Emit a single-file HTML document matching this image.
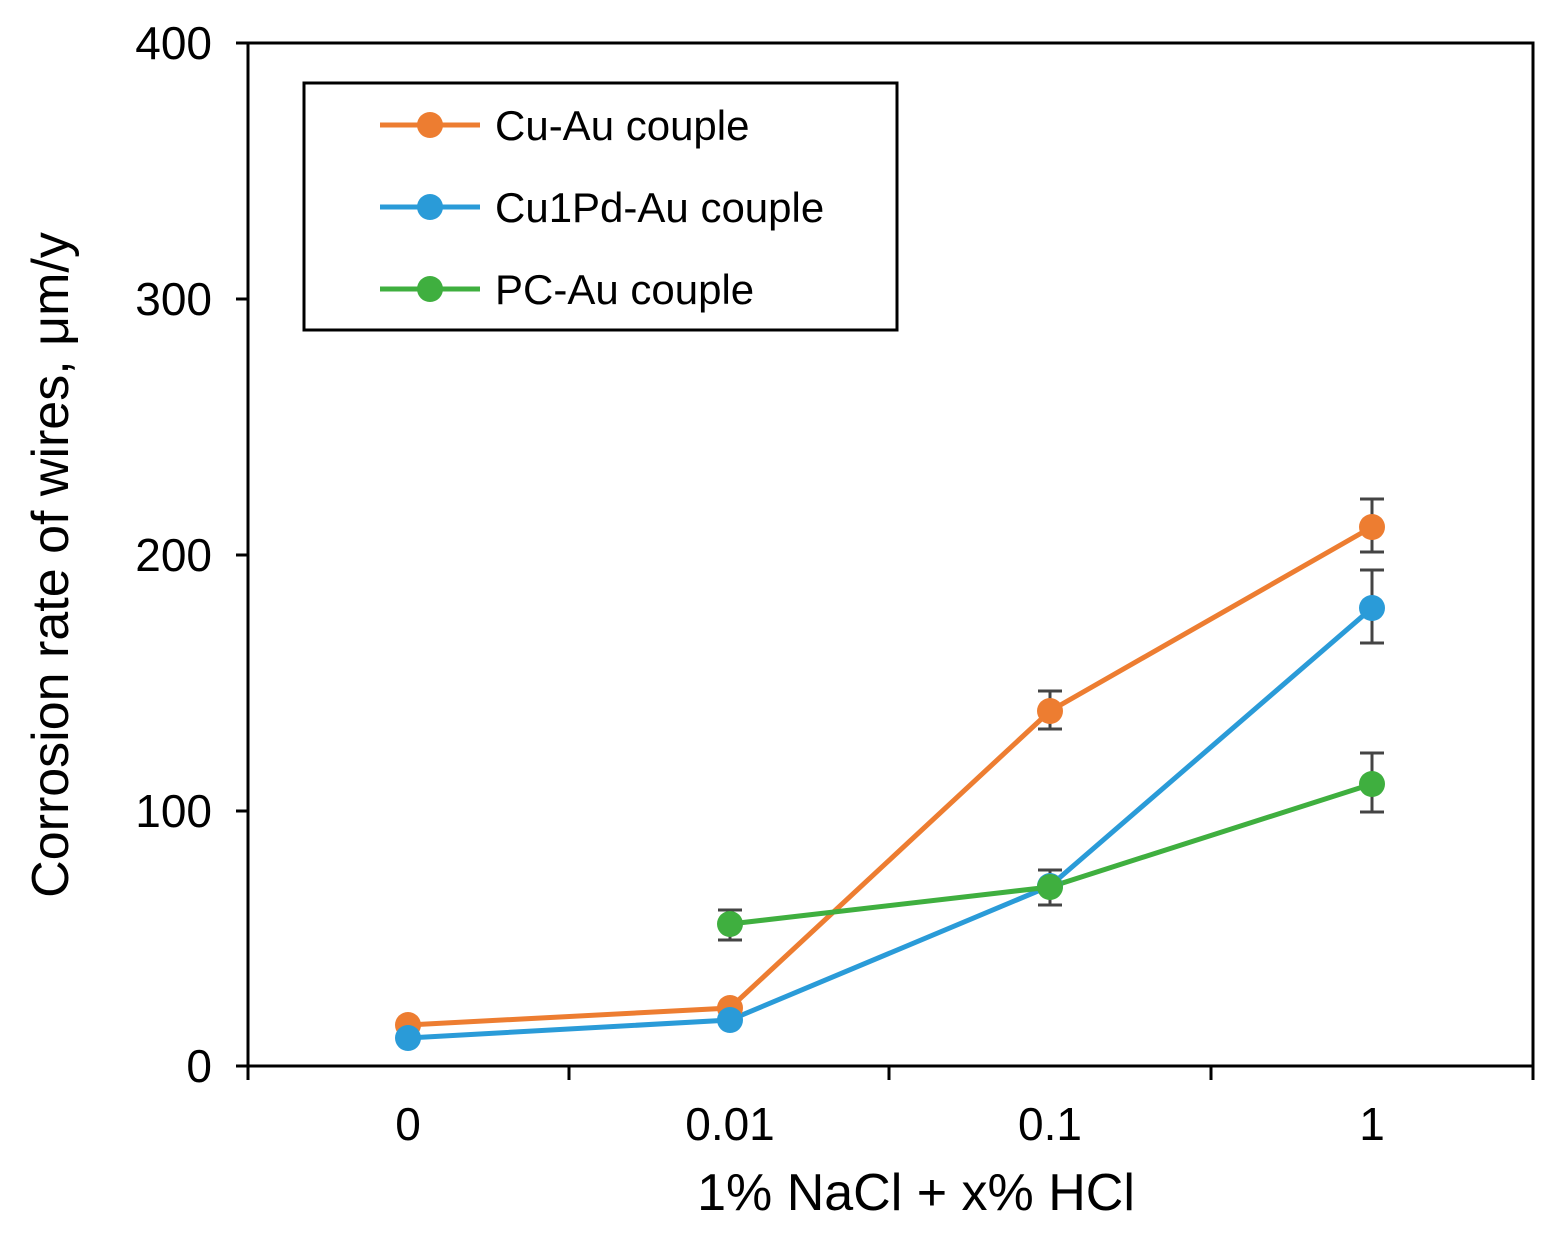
<!DOCTYPE html>
<html><head><meta charset="utf-8"><style>
html,body{margin:0;padding:0;background:#fff;}
svg{display:block;font-family:"Liberation Sans",Arial,sans-serif;}
</style></head><body>
<svg width="1563" height="1237" viewBox="0 0 1563 1237" xmlns="http://www.w3.org/2000/svg">
<rect width="1563" height="1237" fill="#fff"/>
<g stroke="#000" stroke-width="3" fill="none">
<polyline points="248,43 1533,43 1533,1066"/>
<line x1="248" y1="43" x2="248" y2="1066"/>
<line x1="248" y1="1066" x2="1533" y2="1066"/>
<line x1="236" y1="43" x2="248" y2="43"/>
<line x1="236" y1="299" x2="248" y2="299"/>
<line x1="236" y1="555" x2="248" y2="555"/>
<line x1="236" y1="811" x2="248" y2="811"/>
<line x1="236" y1="1066" x2="248" y2="1066"/>
<line x1="248" y1="1066" x2="248" y2="1080"/>
<line x1="569" y1="1066" x2="569" y2="1080"/>
<line x1="889" y1="1066" x2="889" y2="1080"/>
<line x1="1211" y1="1066" x2="1211" y2="1080"/>
<line x1="1533" y1="1066" x2="1533" y2="1080"/>
</g>
<g font-size="46" fill="#000" text-anchor="end">
<text x="212" y="59">400</text>
<text x="212" y="315">300</text>
<text x="212" y="571">200</text>
<text x="212" y="827">100</text>
<text x="212" y="1082">0</text>
</g>
<g font-size="46" fill="#000" text-anchor="middle">
<text x="408" y="1140">0</text>
<text x="730" y="1140">0.01</text>
<text x="1050" y="1140">0.1</text>
<text x="1372" y="1140">1</text>
<text x="916" y="1210" font-size="52">1% NaCl + x% HCl</text>
</g>
<text transform="translate(68,565) rotate(-90)" font-size="52" text-anchor="middle" fill="#000">Corrosion rate of wires, μm/y</text>
<g stroke="#444" stroke-width="3">
<line x1="1050" y1="691" x2="1050" y2="729"/><line x1="1038" y1="691" x2="1062" y2="691"/><line x1="1038" y1="729" x2="1062" y2="729"/>
<line x1="1372" y1="499" x2="1372" y2="552"/><line x1="1360" y1="499" x2="1384" y2="499"/><line x1="1360" y1="552" x2="1384" y2="552"/>
<line x1="1372" y1="570" x2="1372" y2="643"/><line x1="1360" y1="570" x2="1384" y2="570"/><line x1="1360" y1="643" x2="1384" y2="643"/>
<line x1="1372" y1="753" x2="1372" y2="812"/><line x1="1360" y1="753" x2="1384" y2="753"/><line x1="1360" y1="812" x2="1384" y2="812"/>
<line x1="730" y1="910" x2="730" y2="940"/><line x1="718" y1="910" x2="742" y2="910"/><line x1="718" y1="940" x2="742" y2="940"/>
<line x1="1050" y1="870" x2="1050" y2="905"/><line x1="1038" y1="870" x2="1062" y2="870"/><line x1="1038" y1="905" x2="1062" y2="905"/>
</g>
<g stroke-width="5" fill="none">
<polyline stroke="#ED7D31" points="408,1025 730,1008 1050,711 1372,527"/>
<polyline stroke="#2A9BD8" points="408,1038 730,1020 1050,886 1372,608"/>
<polyline stroke="#3FAF3F" points="730,924 1050,887 1372,784"/>
</g>
<g fill="#ED7D31"><circle cx="408" cy="1025" r="13"/><circle cx="730" cy="1008" r="13"/><circle cx="1050" cy="711" r="13"/><circle cx="1372" cy="527" r="13"/></g>
<g fill="#2A9BD8"><circle cx="408" cy="1038" r="13"/><circle cx="730" cy="1020" r="13"/><circle cx="1050" cy="886" r="13"/><circle cx="1372" cy="608" r="13"/></g>
<g fill="#3FAF3F"><circle cx="730" cy="924" r="13"/><circle cx="1050" cy="887" r="13"/><circle cx="1372" cy="784" r="13"/></g>
<rect x="304" y="83" width="593" height="247" fill="#fff" stroke="#000" stroke-width="3"/>
<line x1="380" y1="125" x2="480" y2="125" stroke="#ED7D31" stroke-width="5"/><circle cx="430" cy="125" r="13" fill="#ED7D31"/>
<line x1="380" y1="207" x2="480" y2="207" stroke="#2A9BD8" stroke-width="5"/><circle cx="430" cy="207" r="13" fill="#2A9BD8"/>
<line x1="380" y1="289" x2="480" y2="289" stroke="#3FAF3F" stroke-width="5"/><circle cx="430" cy="289" r="13" fill="#3FAF3F"/>
<g font-size="42" fill="#000">
<text x="495" y="140">Cu-Au couple</text>
<text x="495" y="222">Cu1Pd-Au couple</text>
<text x="495" y="304">PC-Au couple</text>
</g>
</svg>
</body></html>
